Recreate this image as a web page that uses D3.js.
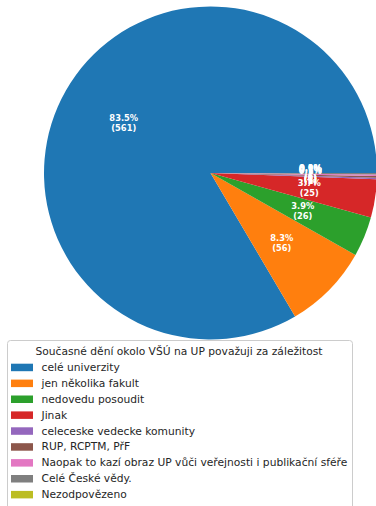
<!DOCTYPE html>
<html><head><meta charset="utf-8">
<script src="https://cdn.jsdelivr.net/npm/d3@7"></script>
<style>html,body{margin:0;padding:0;background:#fff;}svg{display:block;}</style>
</head><body>
<svg id="chart" width="376" height="506"></svg>
<script>
const categories = ["celé univerzity","jen několika fakult","nedovedu posoudit","Jinak","celeceske vedecke komunity","RUP, RCPTM, PřF","Naopak to kazí obraz UP vůči veřejnosti i publikační sféře","Celé České vědy.","Nezodpovězeno"];
const counts = [561, 56, 26, 25, 1, 1, 1, 1, 0];
const colors = ["#1f77b4","#ff7f0e","#2ca02c","#d62728","#9467bd","#8c564b","#e377c2","#7f7f7f","#bcbd22"];
const legendTitle = "Současné dění okolo VŠÚ na UP považuji za záležitost";

const svg = d3.select("#chart");
const cx = 210.5, cy = 173, R = 166.5;
const total = d3.sum(counts);
const data = categories.map((c,i)=>({cat:c, value:counts[i], color:colors[i]}));

// matplotlib: start at 3 o'clock, counterclockwise
const pie = d3.pie().value(d=>d.value).sort(null)
  .startAngle(Math.PI/2).endAngle(Math.PI/2 - 2*Math.PI);
const arcs = pie(data);
const arc = d3.arc().innerRadius(0).outerRadius(R);
const g = svg.append("g").attr("transform",`translate(${cx},${cy})`);
g.selectAll("path.w").data(arcs).join("path").attr("class","w")
  .attr("d",arc).attr("fill",d=>d.data.color);

const labelArc = d3.arc().innerRadius(R*0.6).outerRadius(R*0.6);
const lbl = g.selectAll("text.l").data(arcs).join("text").attr("class","l")
  .attr("transform",d=>`translate(${labelArc.centroid(d)})`)
  .attr("text-anchor","middle")
  .style("font-family","DejaVu Sans")
  .style("font-weight","bold")
  .style("font-size","8.3px")
  .attr("fill","white");
lbl.append("tspan").attr("x",0).attr("dy","-0.25em")
  .text(d=>(d.data.value/total*100).toFixed(1)+"%");
lbl.append("tspan").attr("x",0).attr("dy","1.2em")
  .text(d=>"("+d.data.value+")");

// legend
const lx = 7, ly = 340, lw = 345, lh = 175;
const leg = svg.append("g");
leg.append("rect").attr("x",lx+0.5).attr("y",ly+0.5).attr("width",lw).attr("height",lh)
  .attr("rx",3).attr("fill","white").attr("fill-opacity",0.8)
  .attr("stroke","#cccccc").attr("stroke-width",1);
leg.append("text").attr("x",179).attr("y",351).attr("dy","0.35em")
  .attr("text-anchor","middle")
  .style("font-family","DejaVu Sans").style("font-size","10.7px").attr("fill","#262626")
  .text(legendTitle);
const rowY = d3.scaleLinear().domain([0,1]).range([367.2, 367.2+15.9]);
const items = leg.selectAll("g.it").data(data).join("g").attr("class","it")
  .attr("transform",(d,i)=>`translate(0,${rowY(i)})`);
items.append("rect").attr("x",11).attr("y",-3.5).attr("width",22).attr("height",7.5).attr("fill",d=>d.color);
items.append("text").attr("x",41.5).attr("y",0).attr("dy","0.35em")
  .style("font-family","DejaVu Sans").style("font-size","10.7px").attr("fill","#262626")
  .text(d=>d.cat);
</script>
</body></html>
